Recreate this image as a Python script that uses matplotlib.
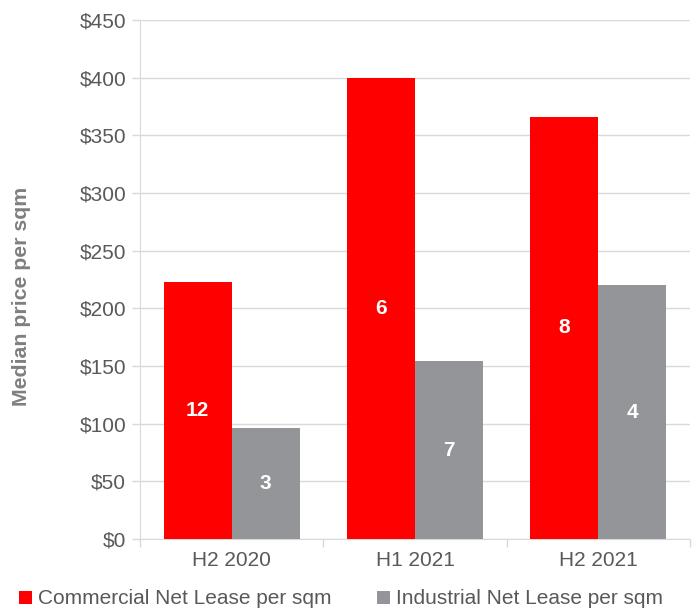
import matplotlib
matplotlib.use("Agg")
import matplotlib.pyplot as plt
import numpy as np

categories = ["H2 2020", "H1 2021", "H2 2021"]
commercial = [223, 400, 366]
industrial = [96, 154, 220]
commercial_counts = ["12", "6", "8"]
industrial_counts = ["3", "7", "4"]
series_names = ["Commercial Net Lease per sqm", "Industrial Net Lease per sqm"]
yticks = [0, 50, 100, 150, 200, 250, 300, 350, 400, 450]
ytick_labels = ["$0", "$50", "$100", "$150", "$200", "$250", "$300", "$350", "$400", "$450"]

plt.rcParams['font.family'] = ['Liberation Sans', 'DejaVu Sans']
RED = "#FF0000"
GREY = "#939598"
TXT = "#595959"
GRID = "#D9D9D9"
FS = 15

fig = plt.figure(figsize=(6.99, 6.10), dpi=100)
ax = fig.add_axes([140/699, 1-539/610, 550/699, 519/610])

x = np.arange(len(categories))
w = 0.37
b1 = ax.bar(x - w/2, commercial, w, color=RED, label=series_names[0], zorder=3)
b2 = ax.bar(x + w/2, industrial, w, color=GREY, label=series_names[1], zorder=3)

for rect, lab in zip(b1, commercial_counts):
    ax.text(rect.get_x() + rect.get_width()/2, rect.get_height()/2, lab,
            ha='center', va='center', color='white', fontsize=FS, fontweight='bold', zorder=4)
for rect, lab in zip(b2, industrial_counts):
    ax.text(rect.get_x() + rect.get_width()/2, rect.get_height()/2, lab,
            ha='center', va='center', color='white', fontsize=FS, fontweight='bold', zorder=4)

ax.set_xlim(-0.5, 2.5)
ax.set_ylim(0, 450)
ax.set_yticks(yticks)
ax.set_yticklabels(ytick_labels)
ax.set_xticks(x)
ax.set_xticklabels(categories)
ax.set_xticks([-0.5, 0.5, 1.5, 2.5], minor=True)
ax.tick_params(axis='x', which='major', length=0, pad=9, labelsize=FS, labelcolor=TXT)
ax.tick_params(axis='x', which='minor', length=6, color=GRID, width=1)
ax.tick_params(axis='y', length=6, color=GRID, width=1, labelsize=FS, labelcolor=TXT, pad=4)
ax.yaxis.grid(True, color=GRID, linewidth=1, zorder=0)
ax.set_axisbelow(True)
for s in ['top', 'right']:
    ax.spines[s].set_visible(False)
ax.spines['left'].set_color(GRID)
ax.spines['bottom'].set_color(GRID)

fig.text(22/699, 1-296/610, "Median price per sqm", rotation=90, ha='center', va='center',
         fontsize=15.3, fontweight='bold', color='#7F7F7F')

leg = fig.legend(handles=[b1, b2], labels=series_names, loc='center', bbox_to_anchor=(341/699, 1-599/610),
                 ncol=2, frameon=False, fontsize=FS, handlelength=0.6, handleheight=0.6,
                 handletextpad=0.3, columnspacing=2.2, labelcolor=TXT)

fig.savefig("out.png", dpi=100)
